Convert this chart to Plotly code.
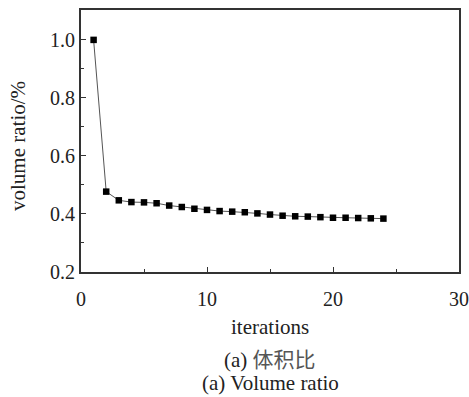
import plotly.graph_objects as go

# Volume ratio per optimisation iteration
iterations = list(range(1, 25))
volume_ratio = [1.000, 0.477, 0.447, 0.441, 0.440, 0.437, 0.429, 0.424,
                0.418, 0.414, 0.410, 0.408, 0.406, 0.402, 0.398, 0.394,
                0.392, 0.391, 0.389, 0.387, 0.387, 0.386, 0.385, 0.384]

x_ticks = [0, 10, 20, 30]
y_ticks = [0.2, 0.4, 0.6, 0.8, 1.0]
y_tick_text = ["0.2", "0.4", "0.6", "0.8", "1.0"]

FONT = "Liberation Serif, Noto Sans CJK SC, serif"
W, H = 469, 397
M_L, M_R, M_T, M_B = 81, 10, 10, 125

fig = go.Figure()
fig.add_trace(go.Scatter(
    x=iterations, y=volume_ratio, mode="lines+markers",
    line=dict(color="#555555", width=1),
    marker=dict(symbol="square", size=6.5, color="black"),
    showlegend=False,
))

axis_common = dict(
    showline=True, linecolor="#333333", linewidth=1.8, mirror=True,
    ticks="inside", ticklen=5, tickwidth=1, tickcolor="#333333",
    showgrid=False, zeroline=False, automargin=False,
    tickfont=dict(family=FONT, size=20, color="#222222"),
)

fig.update_xaxes(range=[0, 30], tickvals=x_ticks, ticklabelstandoff=8,
                 minor=dict(ticks="inside", ticklen=3, dtick=5, tick0=0, tickcolor="#333333"),
                 **axis_common)
fig.update_yaxes(range=[0.2, 1.103], tickvals=y_ticks, ticktext=y_tick_text,
                 minor=dict(ticks="inside", ticklen=3, dtick=0.1, tick0=0.2, tickcolor="#333333"),
                 **axis_common)

fig.update_layout(
    width=W, height=H,
    margin=dict(l=M_L, r=M_R, t=M_T, b=M_B),
    plot_bgcolor="white", paper_bgcolor="white",
    font=dict(family=FONT, color="#222222"),
)

plot_w = W - M_L - M_R
plot_h = H - M_T - M_B


def y_paper(py):
    return (H - M_B - py) / plot_h


def x_paper(px):
    return (px - M_L) / plot_w


# Axis title and captions, placed by pixel centre
captions = [("iterations", 327, "#222222"),
            ("(a) <span style='color:#555555'>体积比</span>", 360, "#222222"),
            ("(a) Volume ratio", 383, "#222222")]
for text, py, col in captions:
    fig.add_annotation(text=text, x=0.5, y=y_paper(py), xref="paper", yref="paper",
                       showarrow=False, yanchor="middle", xanchor="center",
                       font=dict(family=FONT, size=21, color=col))

fig.add_annotation(text="volume ratio/%", x=x_paper(18), y=y_paper(146),
                   xref="paper", yref="paper", showarrow=False, textangle=-90,
                   xanchor="center", yanchor="middle",
                   font=dict(family=FONT, size=21, color="#222222"))

fig.write_html("out.html")
